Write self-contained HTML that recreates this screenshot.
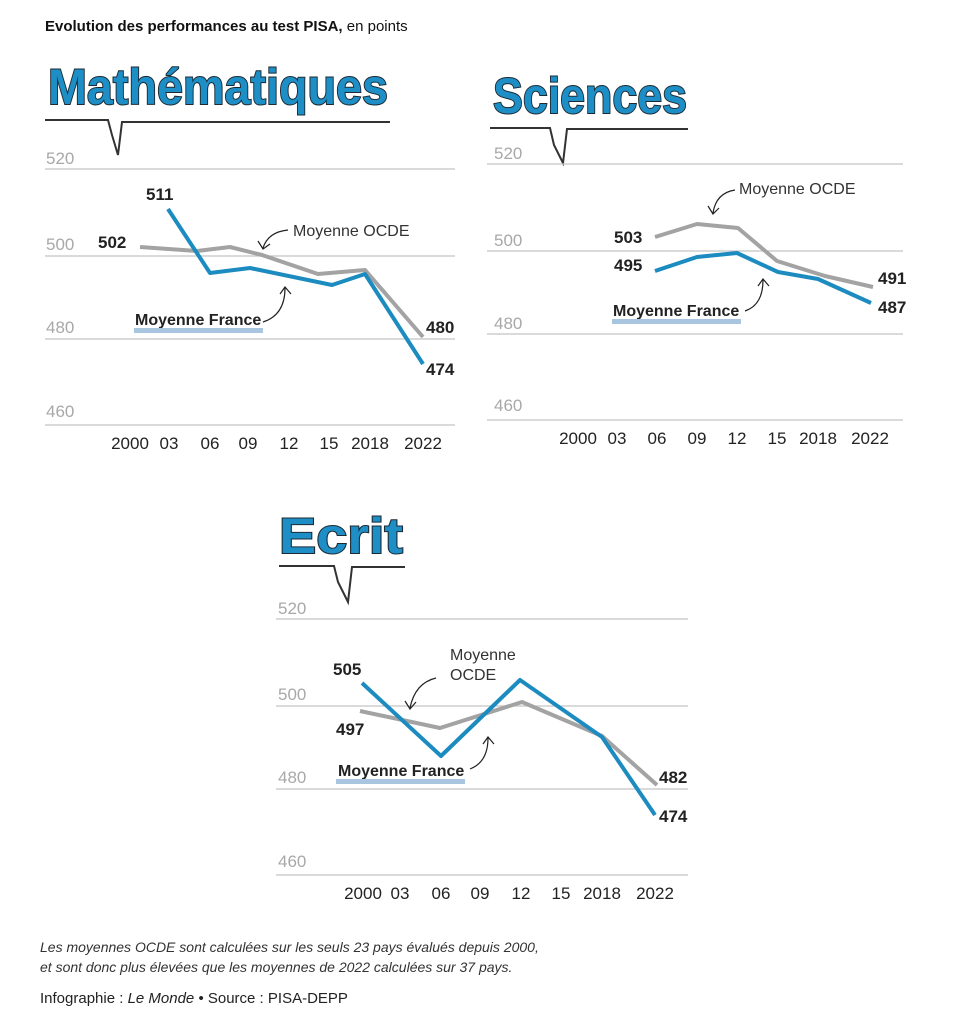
<!DOCTYPE html>
<html><head><meta charset="utf-8"><style>
html,body{margin:0;padding:0;background:#fff;}
svg{display:block;font-family:"Liberation Sans",sans-serif;}
.g{stroke:#c4c4c4;stroke-width:1.3;}
.tk{fill:#a8a8a8;font-size:17px;}
.yr{fill:#222;font-size:17px;text-anchor:middle;}
.v{fill:#222;font-size:17px;font-weight:bold;}
.vn{fill:#222;font-size:17px;}
.bl{fill:none;stroke:#1c8bc0;stroke-width:4;stroke-linejoin:round;}
.gr{fill:none;stroke:#a3a3a3;stroke-width:4;stroke-linejoin:round;}
.ttl{font-size:50px;font-weight:bold;fill:#1e8ec6;stroke:#1d2a33;stroke-width:2;paint-order:stroke;}
.ann{fill:#333;font-size:16px;}
.mf{fill:#222;font-size:16px;font-weight:bold;}
.arr{fill:none;stroke:#222;stroke-width:1.2;}
.bub{fill:none;stroke:#333;stroke-width:2;}
</style></head><body>
<svg width="953" height="1024" viewBox="0 0 953 1024">
<text x="45" y="31" style="font-size:15px;fill:#111"><tspan font-weight="bold">Evolution des performances au test PISA,</tspan> en points</text>

<!-- MATH -->
<text class="ttl" x="48" y="104" textLength="340" lengthAdjust="spacingAndGlyphs">Mathématiques</text>
<path class="bub" d="M45 120 L108 120 L112 135 L118 155 L122 122 L390 122"/>
<line class="g" x1="45" y1="169" x2="455" y2="169"/>
<line class="g" x1="45" y1="256" x2="455" y2="256"/>
<line class="g" x1="45" y1="339" x2="455" y2="339"/>
<line class="g" x1="45" y1="425" x2="455" y2="425"/>
<text class="tk" x="46" y="164">520</text><text class="tk" x="46" y="250">500</text>
<text class="tk" x="46" y="333">480</text><text class="tk" x="46" y="417">460</text>
<g class="yr"><text x="130" y="449">2000</text><text x="169" y="449">03</text><text x="210" y="449">06</text><text x="248" y="449">09</text><text x="289" y="449">12</text><text x="329" y="449">15</text><text x="370" y="449">2018</text><text x="423" y="449">2022</text></g>
<polyline class="gr" points="140,247 197,251 230,247 262,255 318,274 365,270 423,337"/>
<polyline class="bl" points="168,209 210,273 250,268 332,285 365,274 423,364"/>
<text class="v" x="146" y="200">511</text>
<text class="vn" x="98" y="248" style="font-weight:bold">502</text>
<text class="vn" x="426" y="333" style="font-weight:bold">480</text>
<text class="v" x="426" y="375">474</text>
<text class="ann" x="293" y="236">Moyenne OCDE</text>
<path class="arr" d="M288 230 Q268 232 263 248 M258 241 L263 249 L270 244"/>
<text class="mf" x="135" y="325">Moyenne France</text>
<rect x="134" y="328" width="129" height="5" fill="#a9c6e0"/>
<path class="arr" d="M263 322 Q285 315 285 288 M280 294 L285 287 L291 294"/>

<!-- SCIENCES -->
<text class="ttl" x="493" y="113" textLength="194" lengthAdjust="spacingAndGlyphs">Sciences</text>
<path class="bub" d="M490 128 L550 128 L554 145 L563 163 L567 129 L688 129"/>
<line class="g" x1="487" y1="164" x2="903" y2="164"/>
<line class="g" x1="487" y1="251" x2="903" y2="251"/>
<line class="g" x1="487" y1="334" x2="903" y2="334"/>
<line class="g" x1="487" y1="420" x2="903" y2="420"/>
<text class="tk" x="494" y="159">520</text><text class="tk" x="494" y="246">500</text>
<text class="tk" x="494" y="329">480</text><text class="tk" x="494" y="411">460</text>
<g class="yr"><text x="578" y="444">2000</text><text x="617" y="444">03</text><text x="657" y="444">06</text><text x="697" y="444">09</text><text x="737" y="444">12</text><text x="777" y="444">15</text><text x="818" y="444">2018</text><text x="870" y="444">2022</text></g>
<polyline class="gr" points="655,237 697,224 738,228 777,261 825,276 873,287"/>
<polyline class="bl" points="655,271 697,257 737,253 778,272 818,279 871,303"/>
<text class="v" x="614" y="243">503</text>
<text class="v" x="614" y="271">495</text>
<text class="v" x="878" y="284">491</text>
<text class="v" x="878" y="313">487</text>
<text class="ann" x="739" y="194">Moyenne OCDE</text>
<path class="arr" d="M735 190 Q716 193 713 213 M708 206 L713 214 L719 208"/>
<text class="mf" x="613" y="316">Moyenne France</text>
<rect x="612" y="319" width="129" height="5" fill="#a9c6e0"/>
<path class="arr" d="M745 311 Q763 305 763 280 M758 286 L763 279 L769 286"/>

<!-- ECRIT -->
<text class="ttl" x="279" y="553" textLength="124" lengthAdjust="spacingAndGlyphs">Ecrit</text>
<path class="bub" d="M279 566 L334 566 L338 582 L348 602 L352 567 L405 567"/>
<line class="g" x1="276" y1="619" x2="688" y2="619"/>
<line class="g" x1="276" y1="706" x2="688" y2="706"/>
<line class="g" x1="276" y1="789" x2="688" y2="789"/>
<line class="g" x1="276" y1="875" x2="688" y2="875"/>
<text class="tk" x="278" y="614">520</text><text class="tk" x="278" y="700">500</text>
<text class="tk" x="278" y="783">480</text><text class="tk" x="278" y="867">460</text>
<g class="yr"><text x="363" y="899">2000</text><text x="400" y="899">03</text><text x="441" y="899">06</text><text x="480" y="899">09</text><text x="521" y="899">12</text><text x="561" y="899">15</text><text x="602" y="899">2018</text><text x="655" y="899">2022</text></g>
<polyline class="gr" points="360,711 440,728 522,702 602,736 657,785"/>
<polyline class="bl" points="362,683 441,756 520,680 602,737 655,815"/>
<text class="v" x="333" y="675">505</text>
<text class="v" x="336" y="735">497</text>
<text class="v" x="659" y="783">482</text>
<text class="v" x="659" y="822">474</text>
<text class="ann" x="450" y="660">Moyenne</text>
<text class="ann" x="450" y="680">OCDE</text>
<path class="arr" d="M436 678 Q415 683 410 708 M405 701 L410 709 L416 702"/>
<text class="mf" x="338" y="776">Moyenne France</text>
<rect x="336" y="779" width="129" height="5" fill="#a9c6e0"/>
<path class="arr" d="M470 769 Q488 762 488 738 M483 744 L488 737 L494 744"/>

<text x="40" y="952" style="font-size:14px;font-style:italic;fill:#333">Les moyennes OCDE sont calculées sur les seuls 23 pays évalués depuis 2000,</text>
<text x="40" y="972" style="font-size:14px;font-style:italic;fill:#333">et sont donc plus élevées que les moyennes de 2022 calculées sur 37 pays.</text>
<text x="40" y="1003" style="font-size:15px;fill:#222">Infographie : <tspan font-style="italic">Le Monde</tspan> • Source : PISA-DEPP</text>
</svg>
</body></html>
